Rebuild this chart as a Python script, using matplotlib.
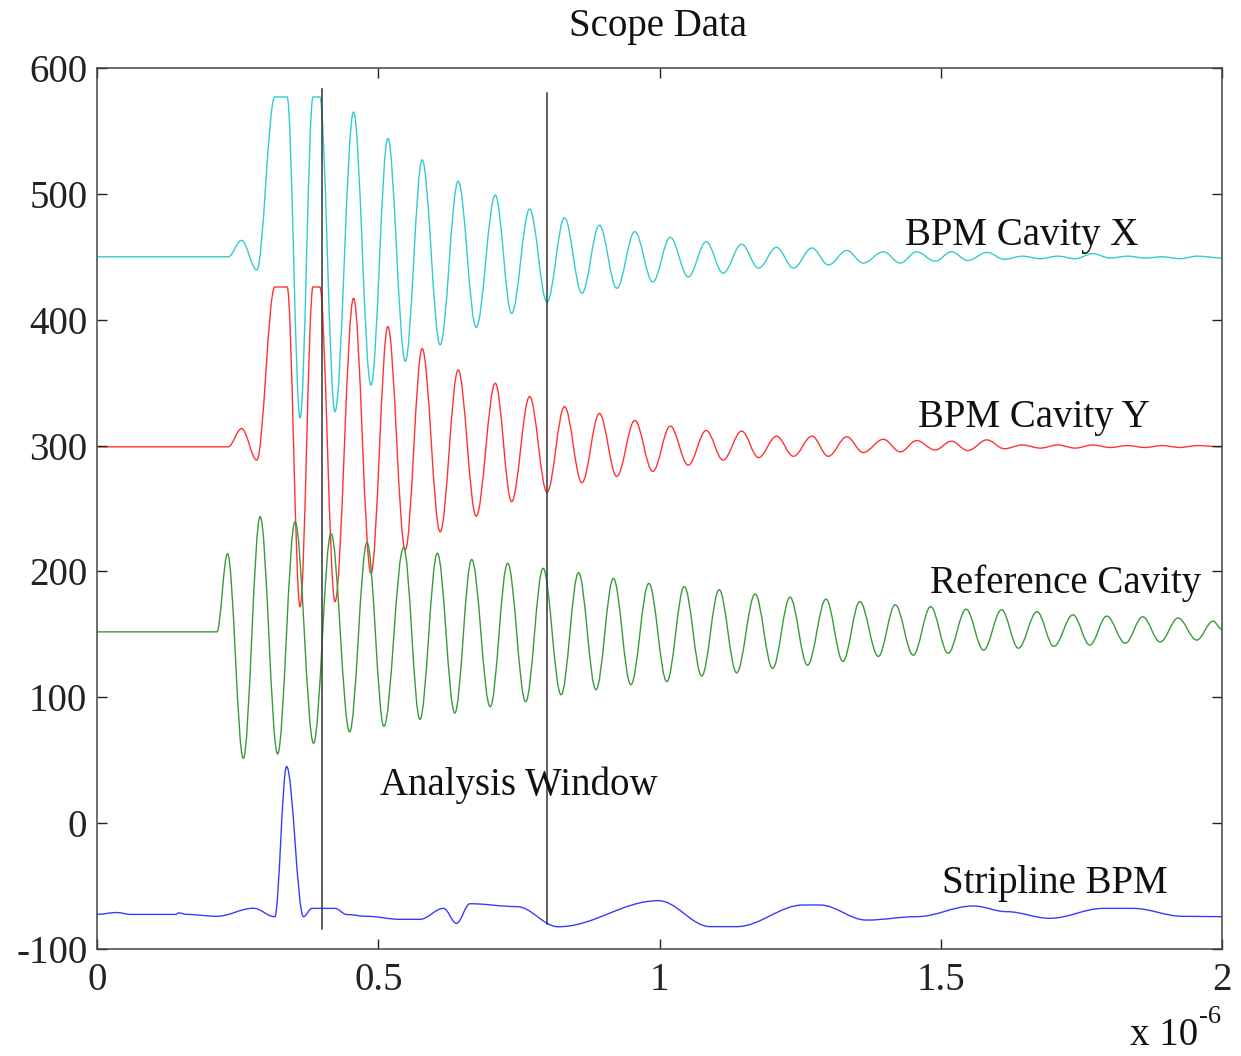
import numpy as np
import matplotlib
matplotlib.use("Agg")
import matplotlib.pyplot as plt
from matplotlib.path import Path
from matplotlib.patches import PathPatch
from matplotlib.ticker import FuncFormatter

plt.rcParams["font.family"] = ["Liberation Serif", "DejaVu Serif"]
plt.rcParams["axes.unicode_minus"] = False

# turning points of the cavity BPM traces (time in microseconds)
cavity_t = [0.0, 0.233, 0.257, 0.284, 0.316, 0.338, 0.361, 0.384, 0.396, 0.423,
            0.456, 0.487, 0.517, 0.548, 0.578, 0.610, 0.642, 0.674, 0.708, 0.737,
            0.769, 0.800, 0.831, 0.862, 0.893, 0.924, 0.956, 0.988, 1.019, 1.051,
            1.083, 1.113, 1.146, 1.176, 1.208, 1.238, 1.271, 1.300, 1.333, 1.362,
            1.398, 1.428, 1.457, 1.490, 1.519, 1.548, 1.582, 1.613, 1.645, 1.677,
            1.708, 1.739, 1.770, 1.801, 1.832, 1.863, 1.894, 1.925, 1.956, 2.0]
cavity_x = [450, 450, 463, 439.5, 577, 577, 322, 577, 577, 327,
            565, 348, 544, 367, 527, 380, 510, 394, 499, 405,
            488, 414, 481, 421, 475, 425, 470, 430, 465.5, 434,
            462, 437, 460, 441, 457.5, 441, 457, 443.5, 455, 445,
            454, 445, 454, 446.5, 454, 447, 453.5, 448, 450.5, 448.5,
            450.5, 448.5, 452.5, 449, 450.5, 449, 450, 448.5, 450.5, 449]
cavity_y = [299, 299, 313.5, 288.5, 426, 426, 172, 426, 426, 176,
            417, 198.5, 394.5, 217, 377, 231.5, 360, 244, 349.5, 255.5,
            339, 263, 331, 270.5, 325.5, 275.5, 320, 279.5, 315.5, 284.5,
            312, 288.5, 311.5, 290.5, 307.5, 291.5, 307.5, 291.5, 307, 294.5,
            305, 295, 304, 296.5, 303.5, 296, 304.5, 297.5, 300.5, 298,
            300.5, 298, 300.5, 298.5, 300, 298.5, 300, 298.5, 300, 299]

# reference cavity turning points
ref_t = [0.0, 0.213, 0.232, 0.260, 0.290, 0.321, 0.352, 0.385, 0.416, 0.449,
         0.480, 0.510, 0.545, 0.574, 0.605, 0.636, 0.666, 0.699, 0.730, 0.762,
         0.793, 0.825, 0.856, 0.887, 0.918, 0.949, 0.981, 1.013, 1.044, 1.075,
         1.106, 1.137, 1.170, 1.201, 1.232, 1.263, 1.296, 1.326, 1.356, 1.389,
         1.419, 1.451, 1.482, 1.513, 1.545, 1.576, 1.608, 1.638, 1.671, 1.701,
         1.735, 1.765, 1.795, 1.828, 1.859, 1.890, 1.922, 1.955, 1.984, 2.0]
ref_v = [152, 152, 214, 51.5, 243.5, 55, 239.5, 63.5, 230, 72.5,
         223, 77, 219, 82.5, 214.5, 87.5, 209.5, 92.5, 206.5, 96.5,
         202.5, 102, 199, 106, 194.5, 110, 190.5, 112.5, 188, 117,
         185.5, 119.5, 182, 123, 179.5, 125.5, 178, 128.5, 176, 132.5,
         173.5, 133.5, 172, 135, 170, 137.5, 169.5, 139, 168, 140.5,
         165.5, 141.5, 164.5, 143, 164, 144, 163, 145.5, 160.5, 154]

# stripline BPM turning points
strip_t = [0.0, 0.035, 0.06, 0.14, 0.145, 0.16, 0.213, 0.278, 0.316, 0.337,
           0.367, 0.382, 0.423, 0.444, 0.479, 0.539, 0.574, 0.616, 0.639, 0.663,
           0.746, 0.820, 0.998, 1.090, 1.137, 1.256, 1.285, 1.368, 1.457, 1.558,
           1.617, 1.694, 1.789, 1.842, 1.930, 2.0]
strip_v = [-72.4, -71, -72.5, -72.5, -71.3, -72.5, -74, -67.6, -74.3, 45,
           -74.3, -67.7, -67.7, -72.6, -74, -76.4, -76.4, -67.7, -79.6, -64,
           -66.3, -82.3, -61.6, -82.2, -82.2, -65, -65, -77, -74.3, -65.8,
           -70.3, -75.6, -67.7, -67.7, -74, -74.3]

# analysis window markers
window_t = [0.4, 0.8]
window_lo = [-84, -80]
window_hi = [583, 580]


def smooth_trace(ax, t_us, v, color):
    # join turning points with bezier segments that are flat at each point
    t = np.asarray(t_us) * 1e-6
    v = np.asarray(v, dtype=float)
    verts = [(t[0], v[0])]
    codes = [Path.MOVETO]
    for i in range(len(t) - 1):
        dt = t[i + 1] - t[i]
        verts += [(t[i] + 0.36 * dt, v[i]), (t[i + 1] - 0.36 * dt, v[i + 1]),
                  (t[i + 1], v[i + 1])]
        codes += [Path.CURVE4] * 3
    ax.add_patch(PathPatch(Path(verts, codes), fill=False, edgecolor=color, lw=1.0))


fig = plt.figure(figsize=(12.41, 10.56), dpi=100)
ax = fig.add_axes([0.0782, 0.1013, 0.9065, 0.8343])

smooth_trace(ax, cavity_t, cavity_x, "#33cccc")
smooth_trace(ax, cavity_t, cavity_y, "#ff3333")
smooth_trace(ax, ref_t, ref_v, "#3a9a3a")
smooth_trace(ax, strip_t, strip_v, "#3a3aff")

for t, lo, hi in zip(window_t, window_lo, window_hi):
    ax.plot([t * 1e-6, t * 1e-6], [lo, hi], color="#333333", lw=1.1)

ax.set_xlim(0, 2e-6)
ax.set_ylim(-100, 600)
ax.set_xticks(np.arange(0, 2.01, 0.5) * 1e-6)
ax.set_yticks(range(-100, 601, 100))
ax.xaxis.set_major_formatter(FuncFormatter(lambda v, _: f"{v * 1e6:g}"))
ax.tick_params(direction="in", length=7, width=1, top=True, right=True,
               labelsize=28, colors="#222222")
ax.tick_params(axis="x", pad=9)
ax.tick_params(axis="y", pad=7)
for sp in ax.spines.values():
    sp.set_color("#444444")
    sp.set_linewidth(1.1)

lab = dict(fontsize=28, color="#111111", va="baseline", ha="left")
ax.text(1.436e-6, 459.4, "BPM Cavity X", **lab)
ax.text(1.460e-6, 314.5, "BPM Cavity Y", **lab)
ax.text(1.480e-6, 183, "Reference Cavity", **lab)
ax.text(1.502e-6, -55.7, "Stripline BPM", **lab)
ax.text(0.503e-6, 22.4, "Analysis Window", **lab)

fig.text(0.530, 0.966, "Scope Data", fontsize=28, ha="center", va="baseline",
         color="#111111")

# axis multiplier in the lower right corner
fig.text(1198 / 1241, 1 - 1045 / 1056, "x 10", fontsize=28, ha="right",
         va="baseline", color="#111111")
fig.text(1199 / 1241, 1 - 1023 / 1056, "-6", fontsize=19, ha="left",
         va="baseline", color="#111111")

fig.savefig("out.png", dpi=100)
